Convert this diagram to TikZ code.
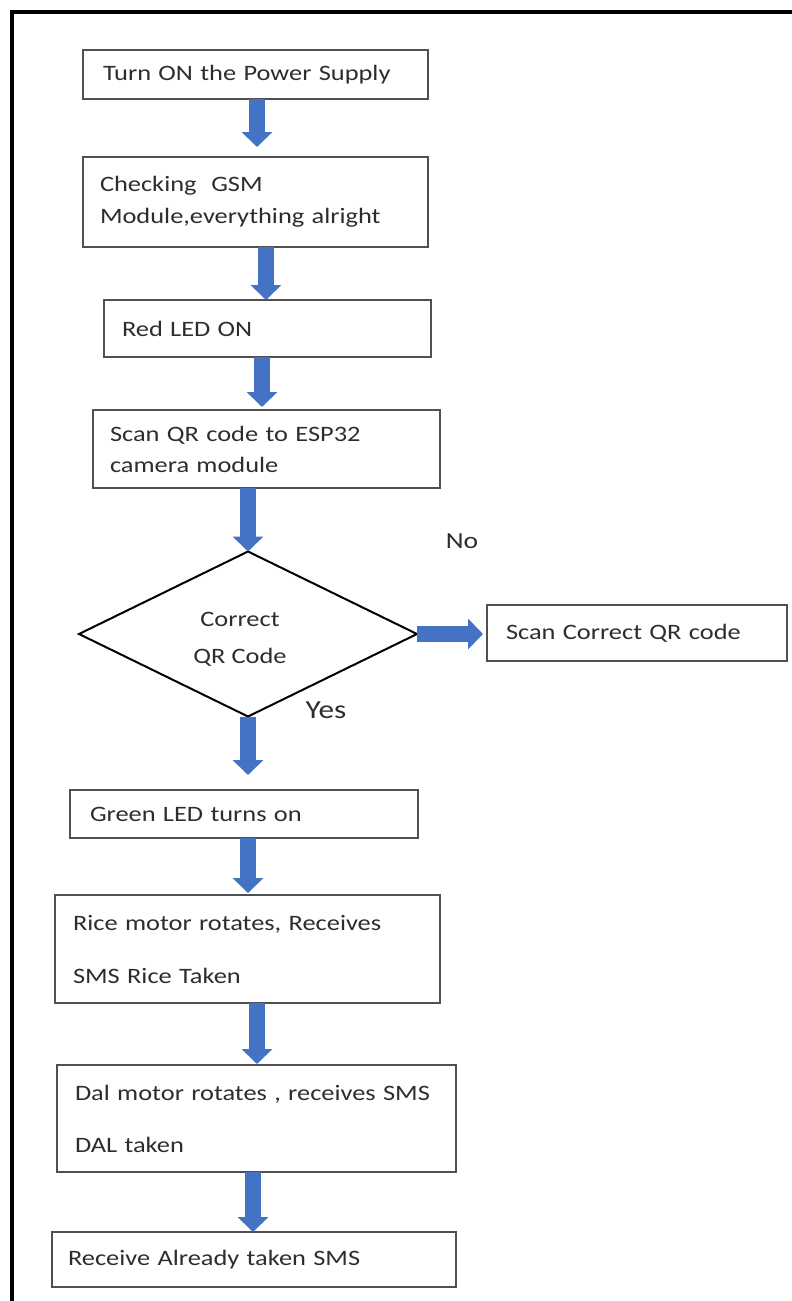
\documentclass[tikz,border=0pt]{standalone}
\usepackage{fontspec}
\setmainfont{Carlito}[FakeStretch=1.2]
\usetikzlibrary{arrows.meta,shapes.geometric,calc}
\definecolor{arrowblue}{RGB}{68,114,196}
\definecolor{boxline}{RGB}{80,80,80}
\definecolor{txt}{RGB}{45,45,45}
\begin{document}
\begin{tikzpicture}[x=1pt,y=-1pt,
  box/.style={draw=boxline, line width=1.5pt, rectangle, anchor=north west, align=left,
    inner ysep=0pt, outer sep=0pt, text=txt, font=\fontsize{22}{32}\selectfont},
  dia/.style={draw=black, line width=2pt, diamond, inner sep=0pt, outer sep=0pt},
  lbl/.style={text=txt, inner sep=0pt, font=\fontsize{22}{37}\selectfont},
  flow/.style={draw=arrowblue, line width=16pt, -{Triangle[width=30pt,length=15pt]}}]
\useasboundingbox (0,0) rectangle (792,1301);
% frame
\draw[line width=4pt, line join=miter] (12,1301) -- (12,12) -- (792,12);
% boxes
\node[box, minimum width=345pt, minimum height=49pt, inner xsep=20pt, text width=305pt] (b1) at (83,50) {Turn ON the Power Supply};
\node[box, minimum width=345pt, minimum height=90pt, inner xsep=17pt, text width=311pt] (b2) at (83,157) {Checking\ \ GSM\\Module,everything alright};
\node[box, minimum width=327pt, minimum height=57pt, inner xsep=18pt, text width=291pt] (b3) at (104,300) {Red LED ON};
\node[box, minimum width=347pt, minimum height=78pt, inner xsep=17pt, text width=313pt, font=\fontsize{22}{31}\selectfont] (b4) at (93,410) {Scan QR code to ESP32\\camera module};
\node[dia, minimum width=338pt, minimum height=165pt] (d) at (248,634) {};
\node[lbl, align=center] (dt) at (240,639) {Correct\\QR Code};
\node[box, minimum width=300pt, minimum height=56pt, inner xsep=19pt, text width=262pt] (sc) at (487,605) {Scan Correct QR code};
\node[box, minimum width=348pt, minimum height=48pt, inner xsep=20pt, text width=308pt] (b6) at (70,790) {Green LED turns on};
\node[box, minimum width=385pt, minimum height=108pt, inner xsep=18pt, text width=349pt, font=\fontsize{22}{53}\selectfont] (b7) at (55,895) {Rice motor rotates, Receives\\SMS Rice Taken};
\node[box, minimum width=399pt, minimum height=107pt, inner xsep=18pt, text width=363pt, font=\fontsize{22}{52}\selectfont] (b8) at (57,1065) {Dal motor rotates , receives SMS\\DAL taken};
\node[box, minimum width=404pt, minimum height=55pt, inner xsep=16pt, text width=372pt] (b9) at (52,1232) {Receive Already taken SMS};
% labels
\node[lbl, font=\fontsize{23}{28}\selectfont] (no) at (462,541) {No};
\node[lbl, font=\fontsize{26}{30}\selectfont] (yes) at (326,710) {Yes};
% arrows
\draw[flow] (b1.south -| 257,0) -- ($(b2.north -| 257,0)+(0,-10)$);
\draw[flow] (b2.south -| 266,0) -- (b3.north -| 266,0);
\draw[flow] (b3.south -| 262,0) -- ($(b4.north -| 262,0)+(0,-3)$);
\draw[flow] (b4.south -| d.north) -- (d.north);
\draw[flow] (d.south) -- ($(b6.north -| d.south)+(0,-15)$);
\draw[flow] (d.east) -- ($(sc.west |- d.east)+(-4,0)$);
\draw[flow] (b6.south -| 248,0) -- ($(b7.north -| 248,0)+(0,-2)$);
\draw[flow] (b7.south -| 257,0) -- ($(b8.north -| 257,0)+(0,-1)$);
\draw[flow] (b8.south -| 253,0) -- (b9.north -| 253,0);
\end{tikzpicture}
\end{document}
